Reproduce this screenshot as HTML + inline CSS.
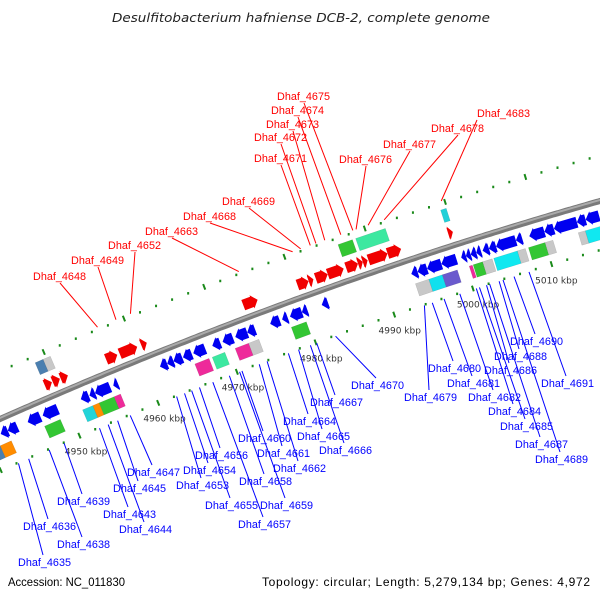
<!DOCTYPE html>
<html><head><meta charset="utf-8"><style>
html,body{margin:0;padding:0;background:#fff;}
svg{display:block;}
</style></head><body>
<svg id="map" width="600" height="600" viewBox="0 0 600 600" xmlns="http://www.w3.org/2000/svg">
<rect width="600" height="600" fill="#fff"/>
<text x="112" y="22" font-family="'DejaVu Sans','Liberation Sans',sans-serif" font-style="italic" font-size="12" fill="#222" textLength="378" lengthAdjust="spacingAndGlyphs">Desulfitobacterium hafniense DCB-2, complete genome</text>
<text x="8" y="586" font-family="'Liberation Sans',sans-serif" font-size="12" fill="#000" textLength="117" lengthAdjust="spacingAndGlyphs">Accession: NC_011830</text>
<text x="262" y="586" font-family="'Liberation Sans',sans-serif" font-size="12" fill="#000" textLength="328" lengthAdjust="spacing">Topology: circular; Length: 5,279,134 bp; Genes: 4,972</text>
<g id="layer"></g>
</svg>
<script>
// ---- data (kbp) ----
const tickKbp = [4950,4960,4970,4980,4990,5000,5010];
const tickLabels = ["4950 kbp","4960 kbp","4970 kbp","4980 kbp","4990 kbp","5000 kbp","5010 kbp"];
const fwdStart = [4948.6,4949.6,4950.6,4956.3,4958.0,4960.7,4973.5,4980.3,4981.7,4982.6,4984.1,4986.4,4987.9,4988.5,4989.2,4991.6,4999.2];
const fwdEnd   = [4949.5,4950.5,4951.5,4957.7,4960.2,4961.4,4975.3,4981.7,4982.3,4984.1,4986.1,4987.9,4988.5,4989.1,4991.6,4993.3,4999.8];
const revStart = [4941.7,4942.6,4945.1,4947.0,4951.8,4952.9,4953.6,4955.9,4961.8,4962.7,4963.5,4964.7,4966.0,4968.4,4969.7,4971.3,4972.8,4975.7,4977.2,4978.2,4979.7,4982.2,4993.5,4994.3,4995.5,4997.3,4999.8,5000.4,5001.0,5001.7,5002.5,5003.3,5004.2,5006.7,5008.4,5010.3,5011.5,5014.4,5015.5];
const revEnd   = [4942.6,4943.8,4946.7,4948.9,4952.8,4953.6,4955.5,4956.5,4962.7,4963.5,4964.6,4965.8,4967.5,4969.4,4971.0,4972.8,4973.8,4976.9,4977.9,4979.7,4980.4,4983.0,4994.3,4995.5,4997.3,4999.2,5000.4,5001.0,5001.7,5002.3,5003.3,5004.2,5006.7,5007.5,5010.3,5011.5,5014.4,5015.5,5017.2];
const fwdBoxStart = [4948.6,4949.6,4986.4,4988.6,4999.2];
const fwdBoxEnd   = [4949.6,4950.5,4988.2,4992.3,4999.9];
const fwdBoxColor = ["#4a7fb0","#c8c8c8","#33c633","#3ce8a0","#22d0d8"];
const revBoxStart = [4940.4,4941.1,4946.7,4951.5,4952.8,4953.6,4955.5,4965.7,4967.9,4970.8,4972.5,4977.9,4993.6,4995.3,4997.0,5000.4,5000.9,5002.1,5003.5,5006.5,5007.9,5010.0,5014.2,5015.1];
const revBoxEnd   = [4941.1,4942.5,4948.7,4952.8,4953.6,4955.5,4956.3,4967.5,4969.5,4972.5,4973.8,4979.8,4995.3,4997.0,4998.9,5000.8,5002.1,5003.3,5006.5,5007.5,5010.0,5011.0,5015.1,5017.5];
const revBoxColor = ["#4a7fb0","#ff8c00","#33c633","#22d4d8","#ff8c00","#33c633","#ee2a9a","#ee2a9a","#3ce8a0","#ee2a9a","#c8c8c8","#33c633","#c8c8c8","#10e0ee","#6a5acd","#ee2a9a","#33c633","#c8c8c8","#10e8f0","#c8c8c8","#33c633","#c8c8c8","#c8c8c8","#10e8f0"];
const redNames = ["Dhaf_4675","Dhaf_4674","Dhaf_4673","Dhaf_4672","Dhaf_4671","Dhaf_4676","Dhaf_4677","Dhaf_4678","Dhaf_4683","Dhaf_4669","Dhaf_4668","Dhaf_4663","Dhaf_4652","Dhaf_4649","Dhaf_4648"];
const redKbp = [4988.6,4987.1,4985.1,4984.0,4983.3,4989.0,4990.5,4992.5,4999.6,4982.1,4981.1,4974.4,4960.9,4959.1,4956.8];
const redLabelX = [277,271,266,254,254,339,383,431,477,222,183,145,108,71,33];
const redLabelY = [96,110,124,137,158,159,144,128,113,201,216,231,245,260,276];
const blueNames = ["Dhaf_4635","Dhaf_4636","Dhaf_4638","Dhaf_4639","Dhaf_4643","Dhaf_4644","Dhaf_4645","Dhaf_4647","Dhaf_4653","Dhaf_4654","Dhaf_4655","Dhaf_4656","Dhaf_4657","Dhaf_4658","Dhaf_4659","Dhaf_4660","Dhaf_4661","Dhaf_4662","Dhaf_4664","Dhaf_4665","Dhaf_4666","Dhaf_4667","Dhaf_4670","Dhaf_4679","Dhaf_4680","Dhaf_4681","Dhaf_4682","Dhaf_4684","Dhaf_4685","Dhaf_4686","Dhaf_4687","Dhaf_4688","Dhaf_4689","Dhaf_4690","Dhaf_4691"];
const blueKbp = [4942.2,4943.5,4946.1,4948.0,4952.5,4953.6,4954.8,4956.4,4962.3,4963.3,4964.2,4965.2,4966.9,4969.0,4970.3,4970.6,4972.8,4973.8,4976.5,4977.8,4979.3,4980.1,4982.5,4993.8,4994.8,4996.3,4998.3,5000.4,5000.8,5001.7,5002.1,5003.3,5003.8,5005.2,5007.1];
const blueLabelX = [18,23,57,57,103,119,113,127,176,183,205,195,238,239,260,238,257,273,283,297,319,310,351,404,428,447,468,488,500,484,515,494,535,510,541];
const blueLabelY = [562,526,544,501,514,529,488,472,485,470,505,455,524,481,505,438,453,468,421,436,450,402,385,397,368,383,397,411,426,370,444,356,459,341,383];

// ---- geometry ----
const NS = "http://www.w3.org/2000/svg";
const layer = document.getElementById('layer');
function gx(k){ return 61 + 7.95*(k-4950); }
function pos(k, off){
  const x = gx(k), t = x/600;
  const y = (1-t)*(1-t)*419 + 2*t*(1-t)*286 + t*t*201;
  const d = (2*(1-t)*(286-419) + 2*t*(201-286))/600;
  const L = Math.sqrt(1+d*d), tx = 1/L, ty = d/L;
  return [x + off*ty, y - off*tx];
}
function mk(tag, attrs){ const e = document.createElementNS(NS, tag); for (const a in attrs) e.setAttribute(a, attrs[a]); return e; }
function ptsStr(arr){ return arr.map(p=>p[0].toFixed(1)+','+p[1].toFixed(1)).join(' '); }

// backbone
(function(){
  const pts=[]; for(let k=4935;k<=5025;k+=0.5) pts.push(pos(k,0));
  const p1 = mk('polyline',{points:ptsStr(pts),fill:'none',stroke:'#7a7a7a','stroke-width':6});
  
  
  layer.appendChild(p1);
  const h=[]; for(let k=4935;k<=5025;k+=0.5) h.push(pos(k,1));
  const p2 = mk('polyline',{points:ptsStr(h),fill:'none',stroke:'#aaaaaa','stroke-width':2});
  
  
  layer.appendChild(p2);
})();

// ring dots & ticks
[44,-47].forEach(function(off){
  for(let k=4936;k<=5022;k+=2){
    if (k%10===0){
      const a=pos(k,off+3), b=pos(k,off-3);
      const l = mk('line',{x1:a[0],y1:a[1],x2:b[0],y2:b[1],stroke:'#1a8a1a','stroke-width':2});
      
      
      layer.appendChild(l);
    } else {
      const p=pos(k,off);
      const c = mk('rect',{x:p[0]-1,y:p[1]-1,width:2,height:2.5,fill:'#1a8a1a'});
      
      
      layer.appendChild(c);
    }
  }
});
tickKbp.forEach(function(k,i){
  const p=pos(k,-64);
  const t = mk('text',{x:p[0],y:p[1]+3,'text-anchor':'middle','font-family':"'DejaVu Sans','Liberation Sans',sans-serif",'font-size':9,fill:'#333'});
  t.textContent = tickLabels[i];
  
  
  layer.appendChild(t);
});

// boxes
function box(k0,k1,off,col){
  const hh=6.5;
  const poly = mk('polygon',{points:ptsStr([pos(k0,off+hh),pos(k1,off+hh),pos(k1,off-hh),pos(k0,off-hh)]),fill:col,stroke:'rgba(0,0,0,0.15)','stroke-width':0.5});
  
  
  layer.appendChild(poly);
}
fwdBoxStart.forEach((s,i)=>box(s,fwdBoxEnd[i],31,fwdBoxColor[i]));
revBoxStart.forEach((s,i)=>box(s,revBoxEnd[i],-31,revBoxColor[i]));

// arrows
function arrow(k0,k1,off,dir,col){
  const hh=5.5, hw=7, hl=Math.min(0.7,(k1-k0)*0.9);
  let pts;
  if(dir>0) pts=[pos(k0,off+hh),pos(k1-hl,off+hh),pos(k1-hl,off+hw),pos(k1,off),pos(k1-hl,off-hw),pos(k1-hl,off-hh),pos(k0,off-hh)];
  else pts=[pos(k1,off+hh),pos(k0+hl,off+hh),pos(k0+hl,off+hw),pos(k0,off),pos(k0+hl,off-hw),pos(k0+hl,off-hh),pos(k1,off-hh)];
  return mk('polygon',{points:ptsStr(pts),fill:col});
}
fwdStart.forEach(function(s,i){
  const p = arrow(s,fwdEnd[i],13,1,'#f00000');
  
  
  layer.appendChild(p);
});
revStart.forEach(function(s,i){
  const p = arrow(s,revEnd[i],-14,-1,'#0000f0');
  
  
  layer.appendChild(p);
});

// labels
const FONT = "'Liberation Sans',sans-serif";
redNames.forEach(function(n,i){
  const e = pos(redKbp[i],46);
  const ax = redLabelX[i] + (n==='Dhaf_4683'?0:27), ay = redLabelY[i]+7;
  const l = mk('line',{x1:ax,y1:ay,x2:e[0],y2:e[1],stroke:'#ff0000','stroke-width':1});
  
  
  layer.appendChild(l);
  const t = mk('text',{x:redLabelX[i],y:redLabelY[i]+4,'font-family':FONT,'font-size':11,fill:'#ff0000',textLength:53,lengthAdjust:'spacingAndGlyphs'});
  t.textContent = n;
  
  
  layer.appendChild(t);
});
blueNames.forEach(function(n,i){
  const e = pos(blueKbp[i],-48);
  const ax = blueLabelX[i]+25, ay = blueLabelY[i]-7;
  const l = mk('line',{x1:ax,y1:ay,x2:e[0],y2:e[1],stroke:'#0000ff','stroke-width':1});
  
  
  layer.appendChild(l);
  const t = mk('text',{x:blueLabelX[i],y:blueLabelY[i]+4,'font-family':FONT,'font-size':11,fill:'#0000ff',textLength:53,lengthAdjust:'spacingAndGlyphs'});
  t.textContent = n;
  
  
  layer.appendChild(t);
});
</script>
</body></html>
